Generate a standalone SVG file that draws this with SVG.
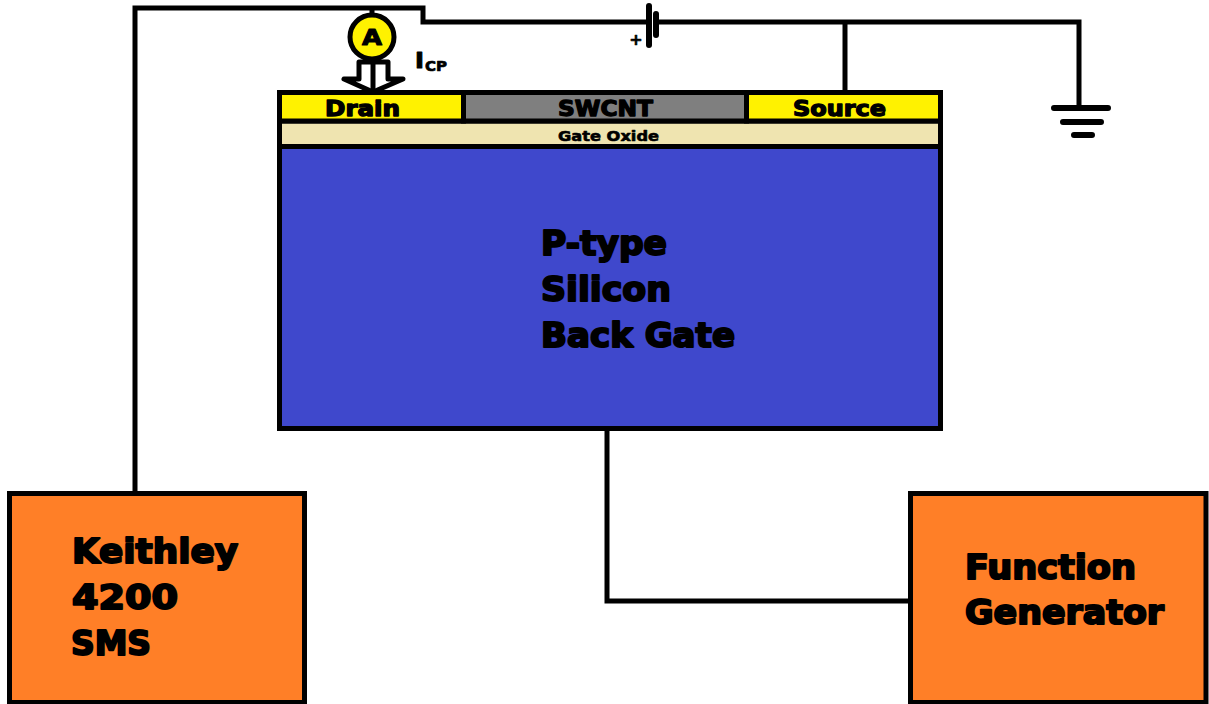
<svg xmlns="http://www.w3.org/2000/svg" width="1209" height="704" viewBox="0 0 1209 704">
<style>
.w{fill:none;stroke:#000;stroke-width:5;stroke-linejoin:miter}
.p{fill:none;stroke:#000;stroke-width:6;stroke-linecap:round}
.b{stroke:#000;stroke-width:5}
text{font-family:"DejaVu Sans","Liberation Sans",sans-serif;font-weight:700;fill:#000;stroke:#000;stroke-linejoin:round}
.l{font-size:33px;stroke-width:2}
.m{font-size:21px;stroke-width:1.3}
</style>
<rect width="1209" height="704" fill="#fff"/>
<g id="connectors">
<path class="w" d="M135 492V8H423V22H649"/>
<path class="w" d="M656 22H1079V108"/>
<path class="w" d="M845 22V90"/>
<path class="w" d="M372 6V16"/>
<path class="w" d="M607 431V601H908"/>
</g>
<g id="battery">
<path class="p" d="M649 6V45"/>
<path class="p" d="M656 14V35"/>
<text x="636" y="45" font-size="16" text-anchor="middle" stroke-width=".6">+</text>
</g>
<g id="ground">
<path class="p" d="M1054 108H1108M1063 122H1101M1074 135H1092"/>
</g>
<g id="ammeter">
<circle cx="372" cy="37" r="22" fill="#fff200" stroke="#000" stroke-width="5"/>
<text x="372" y="45" font-size="21" text-anchor="middle" textLength="20" lengthAdjust="spacingAndGlyphs" stroke-width="1">A</text>
</g>
<g id="current-arrow">
<path d="M359 62H388V79H403L373 92L344 79H359Z" fill="#fff" stroke="#000" stroke-width="5" stroke-linejoin="round"/>
<path class="w" d="M373 62V90"/>
<text x="415" y="68" font-size="22" stroke-width="1" textLength="9" lengthAdjust="spacingAndGlyphs">I</text>
<text x="425" y="71" font-size="14" stroke-width=".7" textLength="22" lengthAdjust="spacingAndGlyphs">CP</text>
</g>
<g id="silicon">
<rect class="b" x="279.500" y="146.500" width="661" height="282" fill="#3f48cc"/>
<text class="l" x="541" y="255" textLength="126" lengthAdjust="spacingAndGlyphs">P-type</text>
<text class="l" x="541" y="301" textLength="130" lengthAdjust="spacingAndGlyphs">Silicon</text>
<text class="l" x="541" y="347" textLength="194" lengthAdjust="spacingAndGlyphs">Back Gate</text>
</g>
<g id="gate-oxide">
<rect class="b" x="279.500" y="121" width="661" height="25.500" fill="#efe4b0"/>
<text x="558" y="141" font-size="14" stroke-width=".6" textLength="101" lengthAdjust="spacingAndGlyphs">Gate Oxide</text>
</g>
<g id="drain">
<rect class="b" x="279.500" y="92.500" width="184" height="28.500" fill="#fff200"/>
<text class="m" x="325" y="116" textLength="75" lengthAdjust="spacingAndGlyphs">Drain</text>
</g>
<g id="swcnt">
<rect class="b" x="463.500" y="92.500" width="283" height="28.500" fill="#7f7f7f"/>
<text class="m" x="558" y="116" textLength="95" lengthAdjust="spacingAndGlyphs">SWCNT</text>
</g>
<g id="source">
<rect class="b" x="746.500" y="92.500" width="194" height="28.500" fill="#fff200"/>
<text class="m" x="793" y="116" textLength="93" lengthAdjust="spacingAndGlyphs">Source</text>
</g>
<g id="keithley">
<rect class="b" x="9.500" y="493.500" width="295" height="209" fill="#ff7f27"/>
<text class="l" x="72" y="563" textLength="166" lengthAdjust="spacingAndGlyphs">Keithley</text>
<text class="l" x="72" y="609" textLength="106" lengthAdjust="spacingAndGlyphs">4200</text>
<text class="l" x="71" y="655" textLength="80" lengthAdjust="spacingAndGlyphs">SMS</text>
</g>
<g id="function-generator">
<rect class="b" x="910.500" y="493.500" width="295.500" height="209" fill="#ff7f27"/>
<text class="l" x="965" y="579" textLength="171" lengthAdjust="spacingAndGlyphs">Function</text>
<text class="l" x="965" y="624" textLength="199" lengthAdjust="spacingAndGlyphs">Generator</text>
</g>
</svg>
